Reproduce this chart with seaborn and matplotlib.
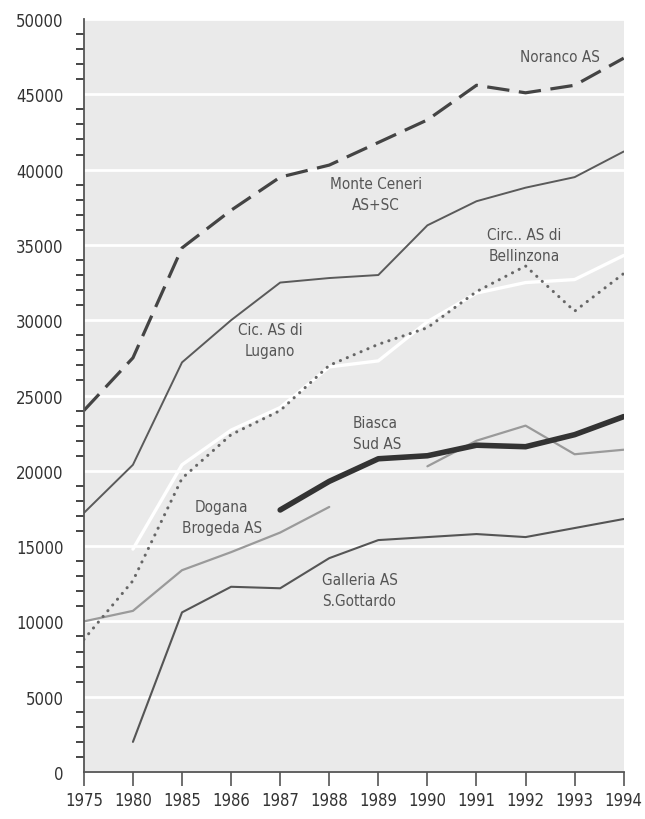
import numpy as np
import pandas as pd
import matplotlib.pyplot as plt
import seaborn as sns
from matplotlib import font_manager

years = ['1975', '1980', '1985', '1986', '1987', '1988', '1989', '1990', '1991', '1992', '1993', '1994']

noranco = [24000, 27500, 34800, 37300, 39500, 40300, 41800, 43300, 45600, 45100, 45600, 47400]
monte_ceneri = [17200, 20400, 27200, 30000, 32500, 32800, 33000, 36300, 37900, 38800, 39500, 41200]
lugano = [np.nan, 14800, 20400, 22700, 24200, 26900, 27300, 29900, 31800, 32500, 32700, 34300]
bellinzona = [8800, 12700, 19500, 22400, 24000, 27000, 28400, 29500, 31900, 33600, 30600, 33100]
biasca = [np.nan, np.nan, np.nan, np.nan, 17400, 19300, 20800, 21000, 21700, 21600, 22400, 23600]
dogana = [10000, 10700, 13400, 14600, 15900, 17600, np.nan, 20300, 22000, 23000, 21100, 21400]
galleria = [np.nan, 2000, 10600, 12300, 12200, 14200, 15400, 15600, 15800, 15600, 16200, 16800]

sns.set_style('white', {'axes.facecolor': '#eaeaea', 'axes.edgecolor': '#555555'})
names = {f.name for f in font_manager.fontManager.ttflist}
narrow = [n for n in ['Liberation Sans Narrow', 'DejaVu Sans Condensed'] if n in names]
plt.rcParams['font.family'] = narrow + ['DejaVu Sans']
plt.rcParams['font.stretch'] = 'condensed'

fig = plt.figure(figsize=(6.45, 8.2), dpi=100)
ax = fig.add_axes([0.130, 0.0573, 0.837, 0.9183])

# white horizontal grid like the printed chart
ax.set_yticks(np.arange(0, 50001, 5000))
ax.yaxis.grid(True, color='white', lw=2)
ax.set_axisbelow(True)


def draw(values, **kw):
    df = pd.DataFrame({'x': np.arange(len(years)), 'y': values})
    df['seg'] = df['y'].isna().cumsum()
    df = df.dropna()
    sns.lineplot(data=df, x='x', y='y', units='seg', estimator=None, ax=ax, **kw)


draw(dogana, color='#9a9a9a', lw=1.6)
draw(galleria, color='#555555', lw=1.5)
draw(monte_ceneri, color='#5a5a5a', lw=1.4)
draw(lugano, color='white', lw=2.4)
draw(bellinzona, color='#666666', lw=2.2, dashes=False)
ax.lines[-1].set_linestyle((0, (0.05, 2.4)))
ax.lines[-1].set_dash_capstyle('round')
draw(biasca, color='#333333', lw=4)
draw(noranco, color='#444444', lw=2.3)
ax.lines[-1].set_linestyle((0, (7, 3)))

txt = dict(color='#555555', fontsize=11, linespacing=1.5)
ax.text(9.7, 47500, 'Noranco AS', ha='center', va='center', **txt)
ax.text(5.95, 38400, 'Monte Ceneri\nAS+SC', ha='center', va='center', **txt)
ax.text(8.98, 35000, 'Circ.. AS di\nBellinzona', ha='center', va='center', **txt)
ax.text(3.79, 28700, 'Cic. AS di\nLugano', ha='center', va='center', **txt)
ax.text(5.48, 22500, 'Biasca\nSud AS', ha='left', va='center', **txt)
ax.text(2.81, 16900, 'Dogana\nBrogeda AS', ha='center', va='center', **txt)
ax.text(4.85, 12100, 'Galleria AS\nS.Gottardo', ha='left', va='center', **txt)

ax.set_xlim(0, 11)
ax.set_ylim(0, 50000)
ax.set_xticks(np.arange(len(years)))
ax.set_xticklabels(years)
ax.set_yticks(np.arange(0, 50001, 1000), minor=True)
ax.set_xlabel('')
ax.set_ylabel('')
ax.tick_params(axis='both', colors='#555555', labelcolor='#333333', labelsize=12)
ax.tick_params(axis='y', which='major', length=11, width=1.2)
ax.tick_params(axis='y', which='minor', length=5.5, width=1.2, left=True)
ax.tick_params(axis='x', length=10, width=1.2, bottom=True)
sns.despine(ax=ax, top=True, right=True)
for s in ['left', 'bottom']:
    ax.spines[s].set_linewidth(1.3)

fig.savefig('out.png', dpi=100)
